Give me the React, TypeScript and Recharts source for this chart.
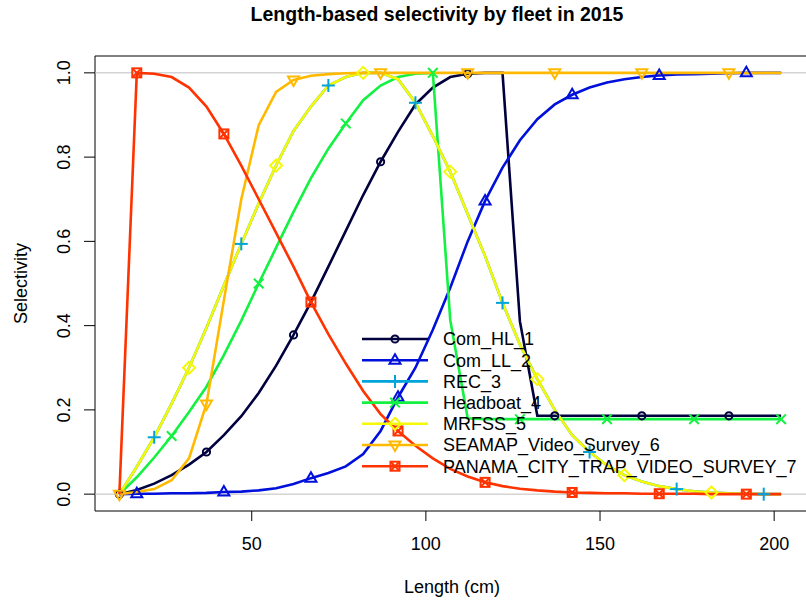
import React from "react";
import { LineChart, Line, XAxis, YAxis, ReferenceLine, ReferenceArea, Legend } from "recharts";

const FONT = "'Liberation Sans', Arial, sans-serif";

// length bins (cm)
const lengths = [
  12, 17, 22, 27, 32, 37, 42, 47, 52, 57, 62, 67, 72, 77, 82, 87, 92, 97, 102, 107,
  112, 117, 122, 127, 132, 137, 142, 147, 152, 157, 162, 167, 172, 177, 182, 187, 192, 197, 202,
];

const comHL = [
  0, 0.01, 0.025, 0.045, 0.07, 0.1, 0.14, 0.185, 0.24, 0.305, 0.378, 0.456, 0.54, 0.625, 0.71, 0.789, 0.86, 0.925, 0.965, 0.99,
  0.998, 1, 1, 0.41, 0.186, 0.186, 0.186, 0.186, 0.186, 0.186, 0.186, 0.186, 0.186, 0.186, 0.186, 0.186, 0.186, 0.186, 0.186,
];
const comLL = [
  0, 0.001, 0.001, 0.002, 0.002, 0.003, 0.005, 0.006, 0.009, 0.014, 0.024, 0.038, 0.05, 0.066, 0.095, 0.15, 0.23, 0.3, 0.39, 0.49,
  0.6, 0.696, 0.775, 0.84, 0.89, 0.925, 0.948, 0.965, 0.977, 0.985, 0.99, 0.994, 0.996, 0.997, 0.998, 0.999, 1, 1, 1,
];
const rec = [
  0, 0.065, 0.135, 0.215, 0.3, 0.395, 0.495, 0.594, 0.69, 0.78, 0.862, 0.92, 0.97, 0.99, 1, 1, 0.985, 0.929, 0.85, 0.765,
  0.665, 0.565, 0.454, 0.355, 0.273, 0.2, 0.14, 0.1, 0.068, 0.045, 0.03, 0.019, 0.012, 0.007, 0.004, 0.002, 0.001, 0, 0,
];
const headboat = [
  0, 0.04, 0.087, 0.138, 0.195, 0.255, 0.33, 0.412, 0.5, 0.585, 0.67, 0.75, 0.82, 0.88, 0.935, 0.97, 0.99, 0.998, 1, 0.413,
  0.18, 0.178, 0.178, 0.178, 0.178, 0.178, 0.178, 0.178, 0.178, 0.178, 0.178, 0.178, 0.178, 0.178, 0.178, 0.178, 0.178, 0.178, 0.178,
];
const mrfss = [
  0, 0.065, 0.135, 0.215, 0.3, 0.395, 0.495, 0.594, 0.69, 0.78, 0.862, 0.92, 0.97, 0.99, 1, 1, 0.985, 0.929, 0.85, 0.765,
  0.665, 0.565, 0.454, 0.355, 0.273, 0.2, 0.14, 0.1, 0.068, 0.045, 0.03, 0.019, 0.012, 0.007, 0.004, 0.002, 0.001, 0, 0,
];
const seamap = [
  0, 0.005, 0.012, 0.033, 0.085, 0.214, 0.46, 0.7, 0.876, 0.955, 0.983, 0.993, 0.997, 0.999, 1, 1, 1, 1, 1, 1,
  1, 1, 1, 1, 1, 1, 1, 1, 1, 1, 1, 1, 1, 1, 1, 1, 1, 1, 1,
];
const panama = [
  0, 1, 0.998, 0.99, 0.965, 0.92, 0.855, 0.78, 0.7, 0.62, 0.54, 0.456, 0.38, 0.31, 0.245, 0.19, 0.15, 0.115, 0.085, 0.06,
  0.042, 0.028, 0.019, 0.013, 0.009, 0.006, 0.004, 0.003, 0.002, 0.002, 0.001, 0.001, 0.001, 0.001, 0, 0, 0, 0, 0,
];

const xTicks = [50, 100, 150, 200];
const yTicks = [0, 0.2, 0.4, 0.6, 0.8, 1];

const series = [
  { name: "Com_HL_1", values: comHL, color: "#00003F", shape: "circle" },
  { name: "Com_LL_2", values: comLL, color: "#0010DB", shape: "triangle" },
  { name: "REC_3", values: rec, color: "#00A4DA", shape: "plus" },
  { name: "Headboat_4", values: headboat, color: "#13F240", shape: "cross" },
  { name: "MRFSS_5", values: mrfss, color: "#F6F905", shape: "diamond" },
  { name: "SEAMAP_Video_Survey_6", values: seamap, color: "#FFBA00", shape: "triangleDown" },
  { name: "PANAMA_CITY_TRAP_VIDEO_SURVEY_7", values: panama, color: "#FF3300", shape: "squareX" },
];

const rows = lengths.map((len, i) => {
  const row: Record<string, number> = { len };
  series.forEach((s) => (row[s.name] = s.values[i]));
  return row;
});

function Marker({ shape, color, cx, cy }: { shape: string; color: string; cx: number; cy: number }) {
  const p = { stroke: color, strokeWidth: 2, fill: "none" };
  switch (shape) {
    case "circle":
      return <circle cx={cx} cy={cy} r={3.6} {...p} />;
    case "triangle":
      return <polygon points={`${cx},${cy - 6} ${cx - 5.5},${cy + 3.5} ${cx + 5.5},${cy + 3.5}`} {...p} />;
    case "triangleDown":
      return <polygon points={`${cx},${cy + 6} ${cx - 5.5},${cy - 3.5} ${cx + 5.5},${cy - 3.5}`} {...p} />;
    case "plus":
      return (
        <g {...p}>
          <line x1={cx - 6.5} x2={cx + 6.5} y1={cy} y2={cy} />
          <line x1={cx} x2={cx} y1={cy - 6.5} y2={cy + 6.5} />
        </g>
      );
    case "cross":
      return (
        <g {...p}>
          <line x1={cx - 4.8} x2={cx + 4.8} y1={cy - 4.8} y2={cy + 4.8} />
          <line x1={cx - 4.8} x2={cx + 4.8} y1={cy + 4.8} y2={cy - 4.8} />
        </g>
      );
    case "diamond":
      return <polygon points={`${cx},${cy - 6} ${cx + 6},${cy} ${cx},${cy + 6} ${cx - 6},${cy}`} {...p} />;
    default:
      return (
        <g {...p}>
          <rect x={cx - 4.5} y={cy - 4.5} width={9} height={9} />
          <line x1={cx - 4.5} x2={cx + 4.5} y1={cy - 4.5} y2={cy + 4.5} />
          <line x1={cx - 4.5} x2={cx + 4.5} y1={cy + 4.5} y2={cy - 4.5} />
        </g>
      );
  }
}

// a marker on every 5th bin, shifted by one bin per series
const makeDot = (shape: string, color: string, start: number) => (props: any) => {
  const { cx, cy, index } = props;
  if (index < start || (index - start) % 5 !== 0 || cx == null || cy == null) return <g key={`e${index}`} />;
  return (
    <g key={`m${index}`}>
      <Marker shape={shape} color={color} cx={cx} cy={cy} />
    </g>
  );
};

function LegendBox() {
  return (
    <svg width={460} height={160}>
      {series.map((s, i) => {
        const y = 14 + i * 21.2;
        return (
          <g key={s.name}>
            <line x1={7} x2={73} y1={y} y2={y} stroke={s.color} strokeWidth={2.6} />
            <Marker shape={s.shape} color={s.color} cx={40} cy={y} />
            <text x={88} y={y + 6.4} fontSize={18} fontFamily={FONT} fill="#000">
              {s.name}
            </text>
          </g>
        );
      })}
    </svg>
  );
}

function YTick(props: any) {
  const { x, y, payload } = props;
  return (
    <text x={x} y={y} transform={`rotate(-90, ${x}, ${y})`} textAnchor="middle" fontSize={18} fontFamily={FONT} fill="#000">
      {Number(payload.value).toFixed(1)}
    </text>
  );
}

export default function App() {
  return (
    <div style={{ position: "absolute", left: 0, top: 0, width: 806, height: 601, overflow: "hidden", background: "#fff", fontFamily: FONT }}>
      <svg style={{ position: "absolute", left: 0, top: 0 }} width={806} height={30}>
        <text x={437} y={21} textAnchor="middle" fontSize={19.5} fontWeight="bold" fontFamily={FONT} fill="#000">
          Length-based selectivity by fleet in 2015
        </text>
      </svg>
      <LineChart width={812} height={601} data={rows} margin={{ top: 56, right: 3, bottom: 0, left: 0 }}>
        <XAxis
          dataKey="len"
          type="number"
          domain={[5, 210]}
          allowDataOverflow
          ticks={xTicks}
          height={90}
          axisLine={false}
          stroke="#000"
          tickSize={10}
          tickMargin={16}
          tick={{ fill: "#000", fontSize: 18, fontFamily: FONT }}
          label={{ value: "Length (cm)", position: "insideBottom", offset: 8, fill: "#000", fontSize: 18, fontFamily: FONT }}
        />
        <YAxis
          type="number"
          domain={[-0.04, 1.04]}
          allowDataOverflow
          ticks={yTicks}
          width={95}
          axisLine={false}
          stroke="#000"
          tickSize={11}
          tickMargin={14}
          tick={<YTick />}
          label={{
            value: "Selectivity",
            angle: -90,
            position: "insideLeft",
            offset: 21,
            fill: "#000",
            fontSize: 18,
            fontFamily: FONT,
            style: { textAnchor: "middle" },
          }}
        />
        <ReferenceLine y={0} stroke="#BEBEBE" strokeWidth={1} />
        <ReferenceLine y={1} stroke="#BEBEBE" strokeWidth={1} />
        <ReferenceArea x1={5} x2={210} y1={-0.04} y2={1.04} fill="none" fillOpacity={0} stroke="#000" strokeWidth={1} />
        {series.map((s, i) => (
          <Line
            key={s.name}
            dataKey={s.name}
            type="linear"
            stroke={s.color}
            strokeWidth={2.6}
            dot={makeDot(s.shape, s.color, i % 5)}
            activeDot={false}
            isAnimationActive={false}
          />
        ))}
        <Legend
          content={<LegendBox />}
          layout="vertical"
          align="center"
          verticalAlign="middle"
          wrapperStyle={{ position: "absolute", left: 355, top: 325, width: 460, height: 160 }}
        />
      </LineChart>
    </div>
  );
}
